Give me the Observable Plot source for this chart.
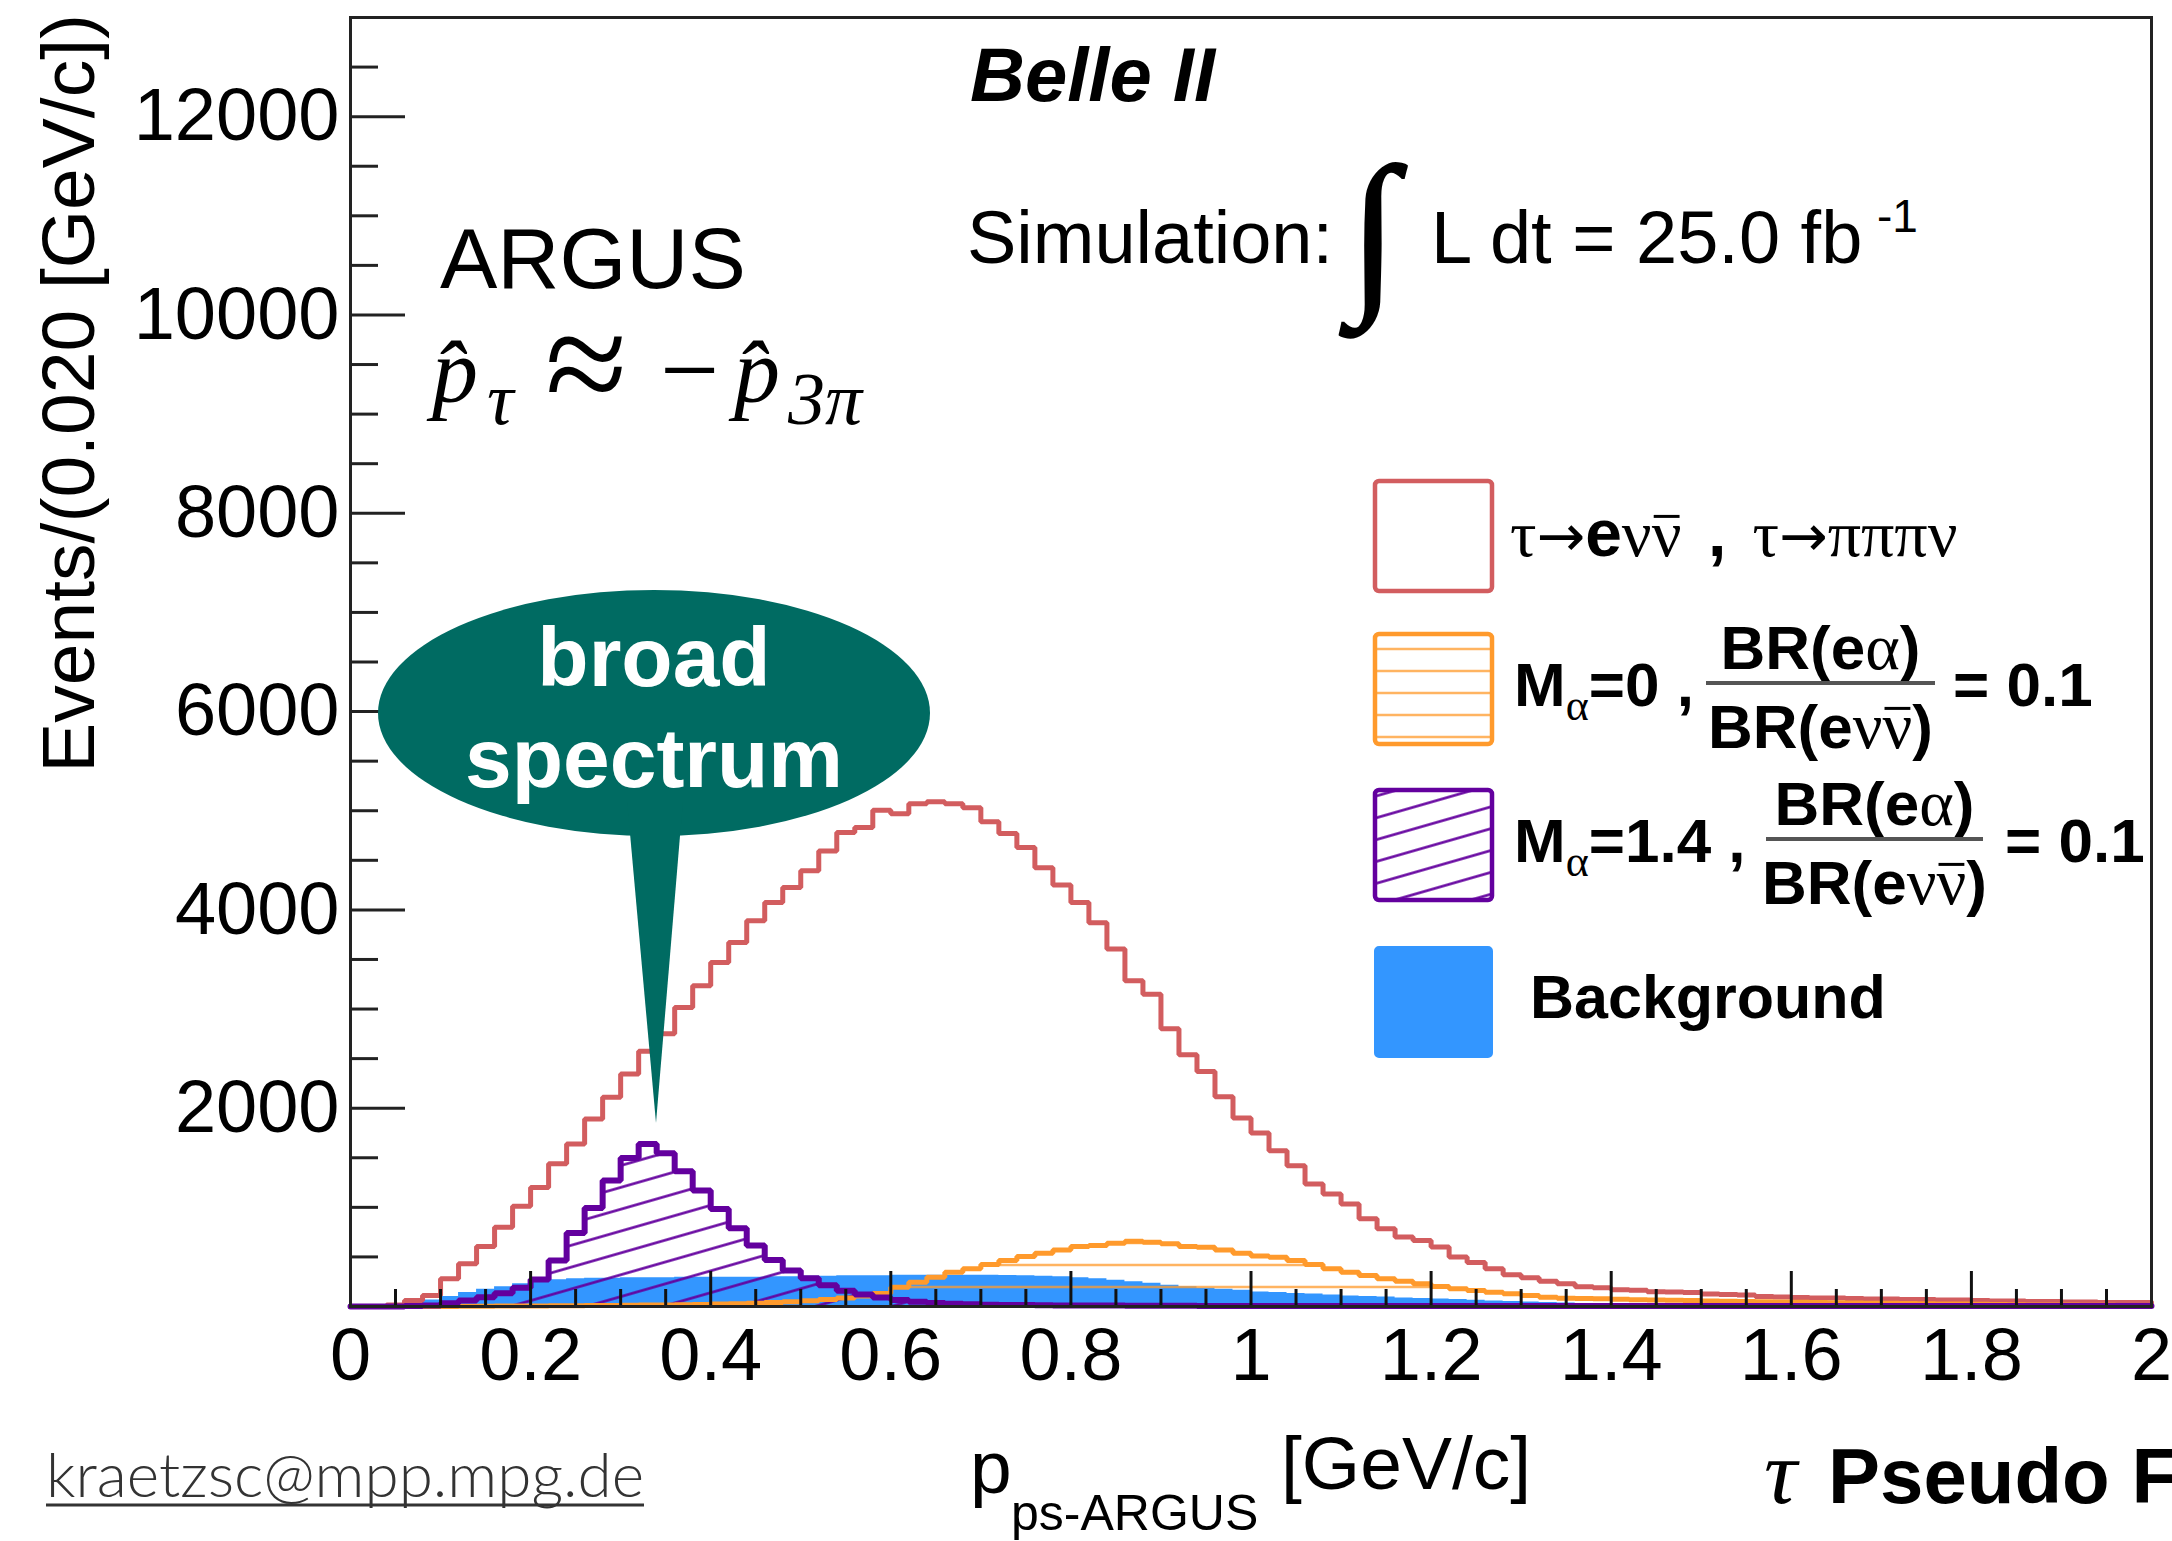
<!DOCTYPE html>
<html>
<head>
<meta charset="utf-8">
<script src="https://cdn.jsdelivr.net/npm/d3@7"></script>
<script src="https://cdn.jsdelivr.net/npm/@observablehq/plot@0.6"></script>
<style>
  html, body { margin: 0; padding: 0; background: #ffffff; overflow: hidden; }
  #chart { width: 2172px; height: 1541px; }
</style>
</head>
<body>
<div id="chart"></div>
<script>
// ---------------- DATA (events per 0.020 GeV/c bin, bins from 0 to 2) ----------------
const binWidth = 0.02;

// tau -> e nu nubar , tau -> pi pi pi nu  (red outline)
const signalSM = [
  0, 0, 15, 60, 110, 280, 430, 605, 800, 1010,
  1200, 1440, 1640, 1890, 2110, 2345, 2575, 2750, 3015, 3235,
  3470, 3670, 3890, 4075, 4225, 4395, 4595, 4780, 4830, 5005,
  4970, 5070, 5090, 5070, 5030, 4890, 4770, 4630, 4425, 4250,
  4075, 3870, 3605, 3285, 3150, 2800, 2540, 2370, 2115, 1900,
  1750, 1570, 1420, 1235, 1135, 1035, 885, 785, 700, 665,
  600, 500, 445, 380, 320, 290, 255, 230, 200, 190,
  170, 165, 150, 145, 140, 125, 120, 115, 100, 95,
  90, 85, 85, 80, 75, 75, 70, 70, 65, 65,
  60, 55, 55, 50, 50, 45, 45, 40, 40, 40
];

// M_alpha = 0 , BR(e alpha)/BR(e nu nubar) = 0.1  (orange, horizontal hatch)
const signalM0 = [
  0, 0, 0, 0, 0, 0, 2, 3, 4, 5,
  6, 7, 8, 9, 10, 12, 14, 16, 18, 20,
  24, 28, 34, 40, 48, 58, 70, 85, 105, 130,
  195, 245, 295, 345, 380, 423, 463, 504, 537, 571,
  605, 615, 638, 658, 648, 632, 605, 598, 571, 537,
  510, 497, 463, 423, 380, 346, 312, 279, 255, 229,
  202, 178, 161, 144, 128, 111, 94, 84, 80, 77,
  72, 68, 65, 62, 60, 55, 52, 50, 48, 45,
  42, 40, 38, 36, 34, 32, 30, 28, 26, 24,
  22, 20, 18, 16, 15, 14, 13, 12, 11, 10
];

// M_alpha = 1.4 , BR(e alpha)/BR(e nu nubar) = 0.1  (purple, diagonal hatch)
const signalM14 = [
  0, 0, 0, 5, 10, 34, 60, 94, 134, 188,
  272, 463, 742, 994, 1270, 1498, 1640, 1545, 1363, 1169,
  984, 790, 615, 470, 363, 285, 215, 160, 120, 90,
  65, 48, 36, 28, 22, 18, 16, 14, 12, 11,
  10, 9, 9, 8, 8, 7, 7, 6, 6, 6,
  5, 5, 5, 5, 5, 5, 5, 5, 5, 5,
  5, 5, 5, 5, 5, 5, 5, 5, 5, 5,
  4, 4, 4, 4, 4, 4, 4, 4, 4, 4,
  4, 4, 4, 4, 4, 4, 4, 4, 4, 4,
  4, 4, 4, 4, 4, 4, 4, 4, 4, 4
];

// Background (blue filled)
const background = [
  0, 0, 20, 50, 65, 100, 140, 175, 200, 230,
  255, 270, 280, 285, 285, 290, 290, 290, 295, 295,
  295, 295, 295, 300, 300, 305, 305, 310, 310, 310,
  315, 315, 315, 315, 315, 315, 312, 310, 305, 300,
  290, 280, 265, 250, 235, 215, 200, 185, 175, 165,
  145, 140, 130, 125, 115, 105, 100, 95, 85, 80,
  75, 70, 62, 55, 50, 45, 40, 35, 30, 28,
  25, 22, 20, 18, 16, 15, 14, 13, 12, 11,
  10, 10, 9, 9, 8, 8, 7, 7, 6, 6,
  6, 5, 5, 5, 5, 4, 4, 4, 4, 4
];

const xMajorTicks = [0, 0.2, 0.4, 0.6, 0.8, 1, 1.2, 1.4, 1.6, 1.8, 2];
const xTickLabels = ["0", "0.2", "0.4", "0.6", "0.8", "1", "1.2", "1.4", "1.6", "1.8", "2"];
const xMinorTicks = d3.range(0, 41).map(i => i * 0.05).filter(v => Math.abs(v * 5 - Math.round(v * 5)) > 1e-6);
const yMajorTicks = [0, 2000, 4000, 6000, 8000, 10000, 12000];
const yLabelTicks = [2000, 4000, 6000, 8000, 10000, 12000];
const yTickLabels = ["2000", "4000", "6000", "8000", "10000", "12000"];
const yMinorTicks = d3.range(1, 26).map(i => i * 500).filter(v => v % 2000 !== 0);

// ---------------- STYLE ----------------
const RED = "#d25d5f";
const ORANGE = "#ff9a2c";
const PURPLE = "#63009e";
const BLUE = "#3396ff";
const TEAL = "#006b62";
const SANS = "'Liberation Sans', Arial, Helvetica, sans-serif";
const SERIF = "'Liberation Serif', 'Times New Roman', serif";
const ARROW = "'DejaVu Sans', sans-serif";

// step series: left bin edges plus closing point at x = 2
function steps(values) {
  const pts = values.map((v, i) => ({x: i * binWidth, y: v}));
  pts.push({x: values.length * binWidth, y: values[values.length - 1]});
  return pts;
}

const W = 2172, H = 1541;
const mL = 350, mR = 21, mT = 17, mB = 235;
const yPerPx = 13000 / (H - mT - mB);
const xPerPx = 2 / (W - mL - mR);

const plot = Plot.plot({
  width: W,
  height: H,
  marginLeft: mL,
  marginRight: mR,
  marginTop: mT,
  marginBottom: mB,
  x: {domain: [0, 2]},
  y: {domain: [0, 13000]},
  style: {fontFamily: SANS, background: "#ffffff", color: "#000", overflow: "visible"},
  marks: [
    Plot.areaY(steps(background), {x: "x", y: "y", curve: "step-after", fill: BLUE}),
    Plot.areaY(steps(signalM0), {x: "x", y: "y", curve: "step-after", fill: "url(#hatchOrange)"}),
    Plot.areaY(steps(signalM14), {x: "x", y: "y", curve: "step-after", fill: "url(#hatchPurple)"}),
    Plot.line(steps(signalSM), {x: "x", y: "y", curve: "step-after", stroke: RED, strokeWidth: 5, strokeLinejoin: "miter"}),
    Plot.line(steps(signalM0), {x: "x", y: "y", curve: "step-after", stroke: ORANGE, strokeWidth: 5, strokeLinejoin: "miter"}),
    Plot.line(steps(signalM14), {x: "x", y: "y", curve: "step-after", stroke: PURPLE, strokeWidth: 6, strokeLinejoin: "miter"}),
    // inward ticks (ROOT style)
    Plot.ruleY(yMajorTicks, {y: d => d, x1: 0, x2: 55 * xPerPx, stroke: "#222", strokeWidth: 3}),
    Plot.ruleY(yMinorTicks, {y: d => d, x1: 0, x2: 28 * xPerPx, stroke: "#222", strokeWidth: 3}),
    Plot.ruleX(xMajorTicks, {x: d => d, y1: 0, y2: 35 * yPerPx, stroke: "#111", strokeWidth: 3}),
    Plot.ruleX(xMinorTicks, {x: d => d, y1: 0, y2: 17 * yPerPx, stroke: "#111", strokeWidth: 3}),
    Plot.frame({stroke: "#222", strokeWidth: 3}),
    Plot.axisX(xMajorTicks, {anchor: "bottom", tickSize: 0, tickPadding: 21, fontSize: 74,
      tickFormat: d => xTickLabels[xMajorTicks.indexOf(d)], label: null}),
    Plot.axisY(yLabelTicks, {anchor: "left", tickSize: 0, tickPadding: 11, fontSize: 74,
      tickFormat: d => yTickLabels[yLabelTicks.indexOf(d)], label: null})
  ]
});

document.getElementById("chart").appendChild(plot);

// ---------------- ANNOTATIONS / LEGEND ----------------
const svg = d3.select(plot);
const defs = svg.insert("defs", ":first-child");
const pO = defs.append("pattern").attr("id", "hatchOrange").attr("patternUnits", "userSpaceOnUse")
  .attr("width", 40).attr("height", 22);
pO.append("line").attr("x1", 0).attr("x2", 40).attr("y1", 11).attr("y2", 11)
  .attr("stroke", ORANGE).attr("stroke-width", 2.5).attr("stroke-opacity", 0.75);
const pP = defs.append("pattern").attr("id", "hatchPurple").attr("patternUnits", "userSpaceOnUse")
  .attr("width", 80).attr("height", 21).attr("patternTransform", "rotate(-16)");
pP.append("line").attr("x1", 0).attr("x2", 80).attr("y1", 10.5).attr("y2", 10.5)
  .attr("stroke", PURPLE).attr("stroke-width", 2.5);

const g = svg.append("g");
const bars = [];   // tspans that need an overline (anti-neutrino)

function txt(x, y, parts, opts = {}) {
  const t = g.append("text").attr("x", x).attr("y", y)
    .attr("font-family", opts.family || SANS)
    .attr("font-size", opts.size || 60)
    .attr("font-weight", opts.weight || "normal")
    .attr("font-style", opts.style || "normal")
    .attr("fill", opts.fill || "#000")
    .attr("text-anchor", opts.anchor || "start");
  if (typeof parts === "string") { t.text(parts); return t; }
  for (const p of parts) {
    const s = t.append("tspan").text(p.t);
    if (p.family) s.attr("font-family", p.family);
    if (p.size) s.attr("font-size", p.size);
    if (p.weight) s.attr("font-weight", p.weight);
    if (p.style) s.attr("font-style", p.style);
    if (p.dy != null) s.attr("dy", p.dy);
    if (p.dx != null) s.attr("dx", p.dx);
    if (p.x != null) s.attr("x", p.x);
    if (p.y != null) s.attr("y", p.y);
    if (p.bar) bars.push({node: s.node(), base: y, size: p.size || opts.size || 60});
  }
  return t;
}

// Belle II
txt(970, 101, "Belle II", {size: 76, weight: "bold", style: "italic"});
// Simulation luminosity
txt(967, 263, "Simulation:", {size: 74});
txt(1349, 290, "\u222B", {family: SERIF, size: 178}).attr("stroke", "#000").attr("stroke-width", 2);
txt(1431, 263, "L dt = 25.0 fb", {size: 74});
txt(1877, 232, "-1", {size: 46});

// ARGUS + formula
txt(440, 288, "ARGUS", {size: 86});
txt(432, 402, [
  {t: "p\u0302", style: "italic"},
  {t: "\u03C4", style: "italic", size: 74, x: 487, y: 424},
  {t: "\u2248", size: 150, x: 545, y: 414},
  {t: "\u2212", size: 105, x: 660, y: 405},
  {t: "p\u0302", style: "italic", x: 734, y: 402},
  {t: "3\u03C0", style: "italic", size: 74, x: 788, y: 424}
], {family: SERIF, size: 92});

// Speech bubble
g.append("ellipse").attr("cx", 654).attr("cy", 713).attr("rx", 276).attr("ry", 123).attr("fill", TEAL);
g.append("path").attr("d", "M 627 800 L 683 800 L 656 1123 Z").attr("fill", TEAL);
txt(654, 686, "broad", {size: 84, weight: "bold", fill: "#fff", anchor: "middle"});
txt(654, 787, "spectrum", {size: 84, weight: "bold", fill: "#fff", anchor: "middle"});

// Legend
const boxX = 1375, boxW = 117, boxH = 110;
g.append("rect").attr("x", boxX).attr("y", 481).attr("width", boxW).attr("height", boxH).attr("rx", 4)
  .attr("fill", "#fff").attr("stroke", RED).attr("stroke-width", 4.5);
g.append("rect").attr("x", boxX).attr("y", 634).attr("width", boxW).attr("height", boxH).attr("rx", 4)
  .attr("fill", "url(#hatchOrange)").attr("stroke", ORANGE).attr("stroke-width", 4.5);
g.append("rect").attr("x", boxX).attr("y", 790).attr("width", boxW).attr("height", boxH).attr("rx", 4)
  .attr("fill", "url(#hatchPurple)").attr("stroke", PURPLE).attr("stroke-width", 4.5);
g.append("rect").attr("x", boxX).attr("y", 947).attr("width", boxW).attr("height", boxH).attr("rx", 4)
  .attr("fill", BLUE).attr("stroke", BLUE).attr("stroke-width", 2);

// entry 1
txt(1510, 556, [
  {t: "\u03C4", family: SERIF},
  {t: "\u2192", family: ARROW, size: 58},
  {t: "e", weight: "bold"},
  {t: "\u03BD", family: SERIF},
  {t: "\u03BD", family: SERIF, bar: true},
  {t: " , ", weight: "bold", dx: 8},
  {t: "\u03C4", family: SERIF, dx: 8},
  {t: "\u2192", family: ARROW, size: 58},
  {t: "\u03C0\u03C0\u03C0\u03BD", family: SERIF}
], {size: 66});

// entries 2 and 3
function ratioEntry(xM, yBase, massText, xFrac, fracW, xEq) {
  txt(xM, yBase, [
    {t: "M", weight: "bold"},
    {t: "\u03B1", family: SERIF, size: 44, weight: "normal", dy: 14},
    {t: "=" + massText + " ,", weight: "bold", dy: -14}
  ], {size: 62, weight: "bold"});
  txt(xFrac + fracW / 2, yBase - 37, [
    {t: "BR(e"}, {t: "\u03B1", family: SERIF, weight: "normal", size: 66}, {t: ")"}
  ], {size: 62, weight: "bold", anchor: "middle"});
  g.append("line").attr("x1", xFrac).attr("x2", xFrac + fracW).attr("y1", yBase - 23).attr("y2", yBase - 23)
    .attr("stroke", "#555").attr("stroke-width", 4);
  txt(xFrac + fracW / 2, yBase + 42, [
    {t: "BR(e"},
    {t: "\u03BD", family: SERIF, weight: "normal", size: 66},
    {t: "\u03BD", family: SERIF, weight: "normal", size: 66, bar: true},
    {t: ")"}
  ], {size: 62, weight: "bold", anchor: "middle"});
  txt(xEq, yBase, "= 0.1", {size: 62, weight: "bold"});
}
ratioEntry(1514, 706, "0", 1706, 229, 1953);
ratioEntry(1514, 862, "1.4", 1766, 217, 2005);

// entry 4
txt(1530, 1018, "Background", {size: 61, weight: "bold"});

// overlines for anti-neutrinos, measured from the rendered glyphs
for (const b of bars) {
  const bb = b.node.getBBox();
  const yb = b.base - 0.6 * b.size;
  g.append("line").attr("x1", bb.x + 2).attr("x2", bb.x + bb.width - 2)
    .attr("y1", yb).attr("y2", yb).attr("stroke", "#000").attr("stroke-width", 3);
}

// Axis titles
txt(0, 0, "Events/(0.020 [GeV/c])", {size: 75, anchor: "end"})
  .attr("transform", "translate(94,14) rotate(-90)");
txt(970, 1493, "p", {size: 75});
txt(1011, 1530, "ps-ARGUS", {size: 50});
txt(1281, 1489, "[GeV/c]", {size: 75});

// Footer
txt(46, 1497, "kraetzsc@mpp.mpg.de", {family: "Lato, 'Open Sans', sans-serif", size: 62, weight: 300, fill: "#333"})
  .attr("textLength", 598).attr("lengthAdjust", "spacingAndGlyphs");
g.append("line").attr("x1", 46).attr("x2", 644).attr("y1", 1505).attr("y2", 1505).attr("stroke", "#333").attr("stroke-width", 3);
txt(1764, 1503, "\u03C4", {family: SERIF, size: 92, style: "italic"});
txt(1828, 1503, "Pseudo Frame", {size: 78, weight: "bold"});
</script>
</body>
</html>
